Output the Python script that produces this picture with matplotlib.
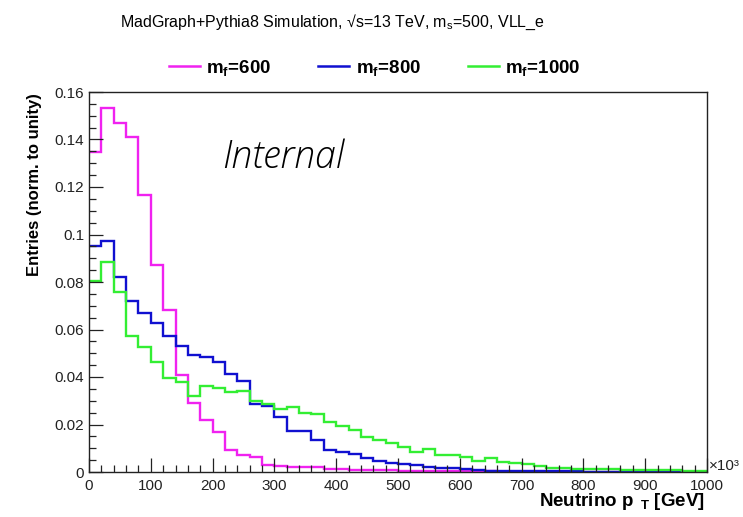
import numpy as np
import matplotlib
matplotlib.use("Agg")
import matplotlib.pyplot as plt
from matplotlib.ticker import FixedLocator, MultipleLocator

plt.rcParams['font.family'] = ['Liberation Sans', 'DejaVu Sans']
plt.rcParams['mathtext.fontset'] = 'custom'
plt.rcParams['mathtext.rm'] = 'Liberation Sans'
plt.rcParams['mathtext.bf'] = 'Liberation Sans:bold'
plt.rcParams['mathtext.it'] = 'Liberation Sans:italic'

# neutrino pT histograms, 20 GeV bins from 0 to 1000, normalised to unity
bin_edges = np.arange(0, 1001, 20)
mf600 = [0.1346, 0.1531, 0.1468, 0.1409, 0.1166, 0.0872, 0.0682, 0.0408, 0.0292, 0.0219,
         0.0167, 0.0093, 0.0072, 0.0062, 0.0028, 0.0024, 0.0023, 0.0022, 0.0020, 0.0012,
         0.0011, 0.0010, 0.0009, 0.0008, 0.0007, 0.0006, 0.0006, 0.0005, 0.0005, 0.0004,
         0.0004, 0.0003, 0.0003, 0.0002, 0.0002, 0.0001, 0.0001, 0.0001, 0.0001, 0.0001,
         0.0, 0.0, 0.0, 0.0, 0.0, 0.0, 0.0, 0.0, 0.0, 0.0]
mf800 = [0.0953, 0.0974, 0.0820, 0.0720, 0.0668, 0.0629, 0.0574, 0.0532, 0.0491, 0.0483,
         0.0462, 0.0411, 0.0383, 0.0287, 0.0277, 0.0233, 0.0174, 0.0174, 0.0135, 0.0093,
         0.0083, 0.0076, 0.0058, 0.0046, 0.0037, 0.0032, 0.0030, 0.0020, 0.0016, 0.0016,
         0.0012, 0.0008, 0.0006, 0.0005, 0.0005, 0.0004, 0.0004, 0.0003, 0.0003, 0.0003,
         0.0002, 0.0002, 0.0002, 0.0001, 0.0001, 0.0001, 0.0001, 0.0001, 0.0001, 0.0001]
mf1000 = [0.0806, 0.0886, 0.0757, 0.0573, 0.0525, 0.0462, 0.0395, 0.0378, 0.0322, 0.0363,
          0.0352, 0.0336, 0.0341, 0.0298, 0.0285, 0.0266, 0.0275, 0.0249, 0.0243, 0.0212,
          0.0194, 0.0177, 0.0149, 0.0135, 0.0121, 0.0107, 0.0086, 0.0097, 0.0072, 0.0072,
          0.0062, 0.0046, 0.0058, 0.0043, 0.0037, 0.0032, 0.0027, 0.0016, 0.0015, 0.0014,
          0.0013, 0.0012, 0.0011, 0.0010, 0.0009, 0.0008, 0.0008, 0.0007, 0.0006, 0.0006]

labels = [r'm$_\mathbf{f}$=600', r'm$_\mathbf{f}$=800', r'm$_\mathbf{f}$=1000']
colors = ['#f022f0', '#1010d0', '#33ee33']

y_ticks = [0, 0.02, 0.04, 0.06, 0.08, 0.1, 0.12, 0.14, 0.16]
y_ticklabels = ['0', '0.02', '0.04', '0.06', '0.08', '0.1', '0.12', '0.14', '0.16']
x_ticks = [0, 100, 200, 300, 400, 500, 600, 700, 800, 900, 1000]

W, H = 743, 517
fig = plt.figure(figsize=(W / 100, H / 100), dpi=100)
ax = fig.add_axes([89 / W, 1 - 472 / H, (707 - 89) / W, (472 - 92) / H])

handles = []
for vals, lab, col in zip([mf600, mf800, mf1000], labels, colors):
    h = ax.stairs(vals, bin_edges, baseline=None, color=col, lw=1.7, label=lab)
    handles.append(h)

ax.set_xlim(0, 1000)
ax.set_ylim(0, 0.16)
ax.xaxis.set_major_locator(FixedLocator(x_ticks))
ax.xaxis.set_minor_locator(MultipleLocator(20))
ax.yaxis.set_major_locator(FixedLocator(y_ticks))
ax.yaxis.set_minor_locator(MultipleLocator(0.005))
ax.set_yticklabels(y_ticklabels)
ax.tick_params(which='both', direction='in', top=False, right=False, labelsize=11, colors='#222222')
ax.tick_params(which='major', length=10, width=0.9)
ax.tick_params(which='minor', length=5, width=0.9)
ax.tick_params(axis='x', pad=5)
for s in ax.spines.values():
    s.set_linewidth(1.0)
    s.set_color('#222222')

fig.text(332 / W, 1 - 22 / H, 'MadGraph+Pythia8 Simulation, √s=13 TeV, m$_\\mathrm{s}$=500, VLL_e',
         ha='center', va='center', fontsize=11.5)

fig.legend(handles=[plt.Line2D([], [], color=c, lw=1.8) for c in colors], labels=labels,
           loc='center', bbox_to_anchor=(375 / W, 1 - 68 / H), ncol=3, frameon=False,
           prop={'weight': 'bold', 'size': 13.5}, handlelength=1.65, handletextpad=0.35,
           columnspacing=2.5)

ax.text(215, 0.1322, 'Internal', fontsize=27, style='italic', weight='light',
        family=['Open Sans', 'DejaVu Sans'], ha='left', va='center')

fig.text(35 / W, 1 - 93 / H, 'Entries (norm. to unity)', rotation=90, ha='center', va='top',
         fontsize=12, fontweight='bold')
fig.text(705 / W, 1 - 502 / H, r'Neutrino p$_{\ \ \mathbf{T}}$ [GeV]', ha='right', va='center',
         fontsize=13.5, fontweight='bold')
fig.text(709 / W, 1 - 466 / H, '×10³', ha='left', va='center', fontsize=11, color='#222222')

fig.savefig('out.png', dpi=100)
